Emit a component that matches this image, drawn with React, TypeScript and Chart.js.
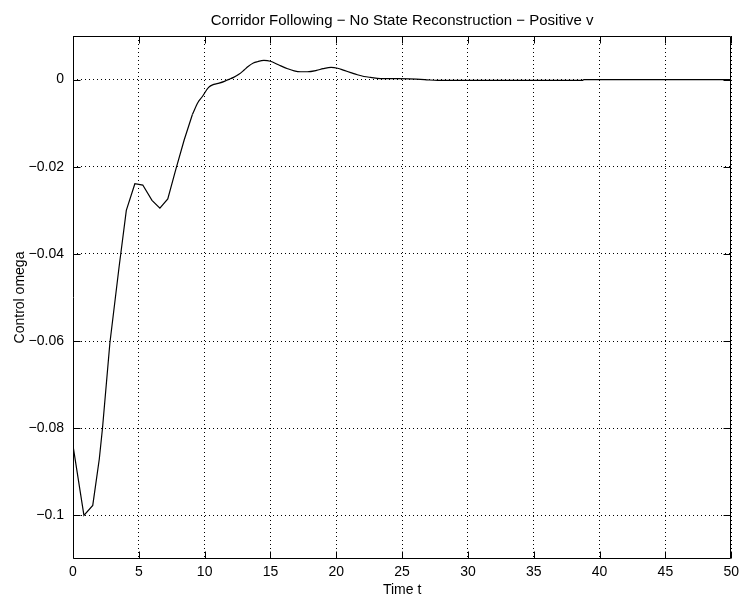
import React, { useEffect, useRef } from "react";
import { Chart, registerables } from "chart.js";

Chart.register(...registerables);

const TITLE = "Corridor Following − No State Reconstruction − Positive v";
const X_LABEL = "Time t";
const Y_LABEL = "Control omega";
const X_TICKS = [0, 5, 10, 15, 20, 25, 30, 35, 40, 45, 50];
const Y_TICKS = [-0.1, -0.08, -0.06, -0.04, -0.02, 0];

// coarse, piecewise-linear start of the response
const TIME_EARLY = [
  0, 0.83, 1.5, 2.0, 2.24, 2.8, 3.5, 4.05, 4.7, 5.3, 6.0, 6.6, 7.2, 7.8, 8.45, 9.07,
];
const OMEGA_EARLY = [
  -0.084, -0.1, -0.0977, -0.087, -0.08, -0.0605, -0.043, -0.03, -0.0239,
  -0.0242, -0.0277, -0.0295, -0.0274, -0.0207, -0.0138, -0.008,
];
// smooth settling part
const TIME_LATE = [
  9.07, 9.5, 9.8, 10.3, 10.7, 11.1, 11.5, 11.8, 12.2, 12.6, 13.0, 13.3, 13.7,
  14.0, 14.5, 15.0, 15.6, 16.3, 16.8, 17.3, 17.8, 18.5, 19.0, 19.6, 20.1, 20.6,
  21.1, 21.6, 22.1, 22.6, 23.7, 24.7, 26.7, 27.7, 38.7, 38.8, 50,
];
const OMEGA_LATE = [
  -0.008, -0.0052, -0.004, -0.0018, -0.0011, -0.0008, -0.0004, 0, 0.0005,
  0.0012, 0.0022, 0.003, 0.0038, 0.0041, 0.0044, 0.0042, 0.0034, 0.0025, 0.002,
  0.0018, 0.0018, 0.0021, 0.0025, 0.0028, 0.0026, 0.0021, 0.0016, 0.0011,
  0.0007, 0.0005, 0.0002, 0.0002, 0, -0.0002, -0.0002, 0, 0,
];

const FONT = "Arial, 'Liberation Sans', Helvetica, sans-serif";
const TICK_LEN = 7;

const framePlugin = {
  id: "frame",
  afterDatasetsDraw(chart: any) {
    const { ctx, chartArea: a, scales } = chart;
    const xs = scales.x;
    const ys = scales.y;
    ctx.save();
    ctx.strokeStyle = "#000";
    ctx.lineWidth = 1;
    const L = Math.round(a.left) + 0.5;
    const R = Math.round(a.right) - 0.5;
    const T = Math.round(a.top) + 0.5;
    const B = Math.round(a.bottom) - 0.5;
    ctx.beginPath();
    ctx.rect(L, T, R - L, B - T);
    for (const v of X_TICKS) {
      const px = Math.round(xs.getPixelForValue(v)) + 0.5;
      ctx.moveTo(px, B);
      ctx.lineTo(px, B - TICK_LEN);
      ctx.moveTo(px, T);
      ctx.lineTo(px, T + TICK_LEN);
    }
    for (const v of Y_TICKS) {
      const py = Math.round(ys.getPixelForValue(v)) + 0.5;
      ctx.moveTo(L, py);
      ctx.lineTo(L + TICK_LEN, py);
      ctx.moveTo(R, py);
      ctx.lineTo(R - TICK_LEN, py);
    }
    ctx.stroke();
    ctx.restore();
  },
};

export default function App() {
  const ref = useRef<HTMLCanvasElement | null>(null);

  useEffect(() => {
    if (!ref.current) return;
    const lineStyle = {
      borderColor: "#000",
      borderWidth: 1.2,
      pointRadius: 0,
      fill: false,
    };
    const chart = new Chart(ref.current, {
      type: "line",
      data: {
        datasets: [
          {
            ...lineStyle,
            data: TIME_EARLY.map((t, i) => ({ x: t, y: OMEGA_EARLY[i] })),
            tension: 0,
          },
          {
            ...lineStyle,
            data: TIME_LATE.map((t, i) => ({ x: t, y: OMEGA_LATE[i] })),
            cubicInterpolationMode: "monotone",
          },
        ],
      },
      options: {
        animation: false,
        responsive: false,
        layout: { padding: { left: 0, right: 8, top: 0, bottom: 0 } },
        plugins: {
          legend: { display: false },
          tooltip: { enabled: false },
          title: {
            display: true,
            fullSize: false,
            text: TITLE,
            color: "#000",
            font: { family: FONT, size: 15, weight: "normal" },
            padding: { top: 11.5, bottom: 6.5 },
          },
        },
        scales: {
          x: {
            type: "linear",
            min: 0,
            max: 50,
            afterBuildTicks: (s: any) => {
              s.ticks = X_TICKS.map((v) => ({ value: v }));
            },
            afterFit: (s: any) => {
              s.height = 42;
            },
            grid: { color: "#000", lineWidth: 1, drawTicks: false },
            border: { display: false, dash: [1, 3] },
            ticks: {
              color: "#000",
              padding: 5,
              maxRotation: 0,
              font: { family: FONT, size: 14 },
              callback: (v: any) => String(v),
            },
            title: {
              display: true,
              text: X_LABEL,
              color: "#000",
              font: { family: FONT, size: 14 },
              padding: { top: 0, bottom: 2.6 },
            },
          },
          y: {
            type: "linear",
            min: -0.11,
            max: 0.01,
            afterBuildTicks: (s: any) => {
              s.ticks = Y_TICKS.map((v) => ({ value: v }));
            },
            afterFit: (s: any) => {
              s.width = 73;
            },
            grid: { color: "#000", lineWidth: 1, drawTicks: false },
            border: { display: false, dash: [1, 3] },
            ticks: {
              color: "#000",
              padding: 9,
              font: { family: FONT, size: 14 },
              callback: (v: any) => String(v).replace("-", "−"),
            },
            title: {
              display: true,
              text: Y_LABEL,
              color: "#000",
              font: { family: FONT, size: 14 },
              padding: { top: 11.6, bottom: 0 },
            },
          },
        },
      },
      plugins: [framePlugin],
    });
    return () => chart.destroy();
  }, []);

  return (
    <div style={{ position: "absolute", left: 0, top: 0, width: 744, height: 601, background: "#fff" }}>
      <canvas ref={ref} width={744} height={601} style={{ display: "block" }} />
    </div>
  );
}
